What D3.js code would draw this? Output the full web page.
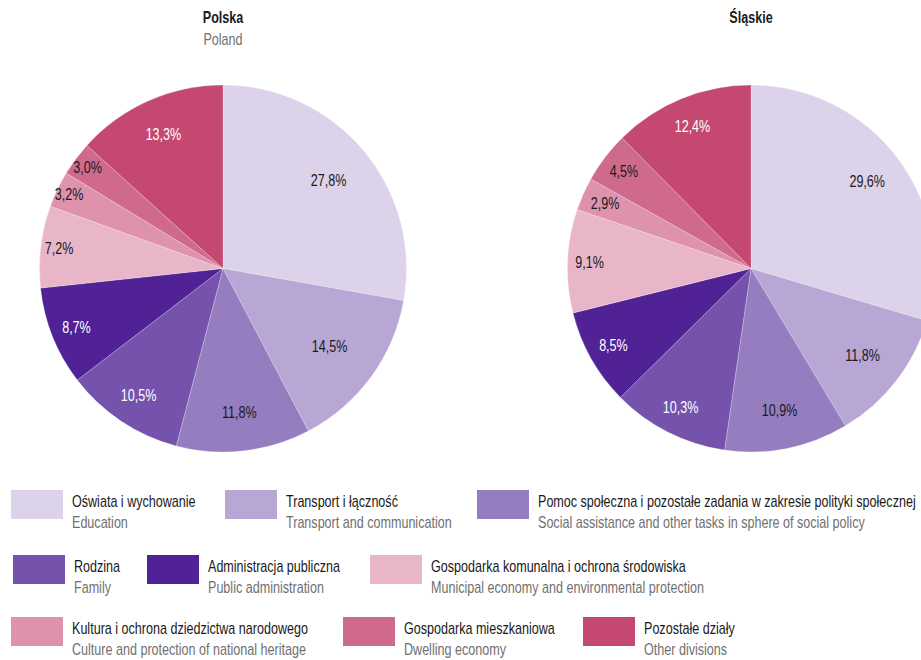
<!DOCTYPE html>
<html><head><meta charset="utf-8">
<script src="https://cdn.jsdelivr.net/npm/d3@7"></script>
<style>
body{margin:0;background:#fff;}
text{font-family:"Liberation Sans Narrow","Liberation Sans",Arial,sans-serif;}
</style></head>
<body><svg id="c" width="921" height="660"></svg>
<script>
const categoriesPL = ["Oświata i wychowanie","Transport i łączność","Pomoc społeczna i pozostałe zadania w zakresie polityki społecznej","Rodzina","Administracja publiczna","Gospodarka komunalna i ochrona środowiska","Kultura i ochrona dziedzictwa narodowego","Gospodarka mieszkaniowa","Pozostałe działy"];
const categoriesEN = ["Education","Transport and communication","Social assistance and other tasks in sphere of social policy","Family","Public administration","Municipal economy and environmental protection","Culture and protection of national heritage","Dwelling economy","Other divisions"];
const valuesPolska = [27.8,14.5,11.8,10.5,8.7,7.2,3.2,3.0,13.3];
const valuesSlaskie = [29.6,11.8,10.9,10.3,8.5,9.1,2.9,4.5,12.4];
const titlesPL = ["Polska","Śląskie"];
const titlesEN = ["Poland",""];

const colors = ["#dcd3ea","#b8a6d4","#957dbf","#7552ac","#512196","#e8b6c8","#df92ac","#d06a8c","#c54870"];
const labelColors = ["#1a1a1a","#1a1a1a","#1a1a1a","#ffffff","#ffffff","#1a1a1a","#1a1a1a","#1a1a1a","#ffffff"];
// label radial position as fraction of radius (layout only)
const labelR = [
  [0.75,0.72,0.79,0.83,0.86,0.90,0.93,0.92,0.80],
  [0.79,0.77,0.79,0.85,0.86,0.88,0.87,0.87,0.84]
];

const svg = d3.select("#c");
const FS = 16;
// horizontal condensation so the longest legend label matches the reference width
const probe = svg.append("text").attr("font-size",FS).text(categoriesPL[2]);
const F = 378 / probe.node().getComputedTextLength();
probe.remove();
function addText(parent, x, y, str, opts) {
  const t = parent.append("text")
    .attr("transform", `translate(${x},${y}) scale(${F},1)`)
    .attr("font-size", FS)
    .attr("fill", opts.fill || "#1a1a1a")
    .attr("text-anchor", opts.anchor || "start")
    .text(str);
  if (opts.bold) t.attr("font-weight", "bold");
  if (opts.dy) t.attr("dy", opts.dy);
  return t;
}

const R = 183.5;
const centers = [[223,268.5],[751,268.5]];
const datasets = [valuesPolska, valuesSlaskie];
const fmt = v => d3.format(".1f")(v).replace(".", ",") + "%";

const pie = d3.pie().sort(null).value(d => d);
const arc = d3.arc().innerRadius(0).outerRadius(R);

datasets.forEach((vals, k) => {
  const g = svg.append("g").attr("transform", `translate(${centers[k][0]},${centers[k][1]})`);
  const arcs = pie(vals);
  g.selectAll("path").data(arcs).enter().append("path")
    .attr("d", arc).attr("fill", (d,i) => colors[i])
    .attr("stroke", "#ffffff").attr("stroke-width", 0.4).attr("stroke-opacity",0.6);
  arcs.forEach((d,i) => {
    const a = (d.startAngle + d.endAngle)/2;
    const r = R*labelR[k][i];
    addText(g, r*Math.sin(a), -r*Math.cos(a), fmt(d.data), {anchor:"middle", dy:"0.35em", fill:labelColors[i]});
  });
  addText(svg, centers[k][0], 23, titlesPL[k], {anchor:"middle", bold:true});
  if (titlesEN[k]) addText(svg, centers[k][0], 45, titlesEN[k], {anchor:"middle", fill:"#707070"});
});

// legend layout
const legendPos = [
  [11,490],[225,490],[477,490],
  [13,555],[147,555],[370,555],
  [11,617],[343,617],[583,617]
];
const lg = svg.append("g");
categoriesPL.forEach((c,i) => {
  const [x,y] = legendPos[i];
  lg.append("rect").attr("x",x).attr("y",y).attr("width",52).attr("height",29).attr("fill",colors[i]);
  addText(lg, x+61, y+17, c, {});
  addText(lg, x+61, y+38, categoriesEN[i], {fill:"#707070"});
});
</script></body></html>
